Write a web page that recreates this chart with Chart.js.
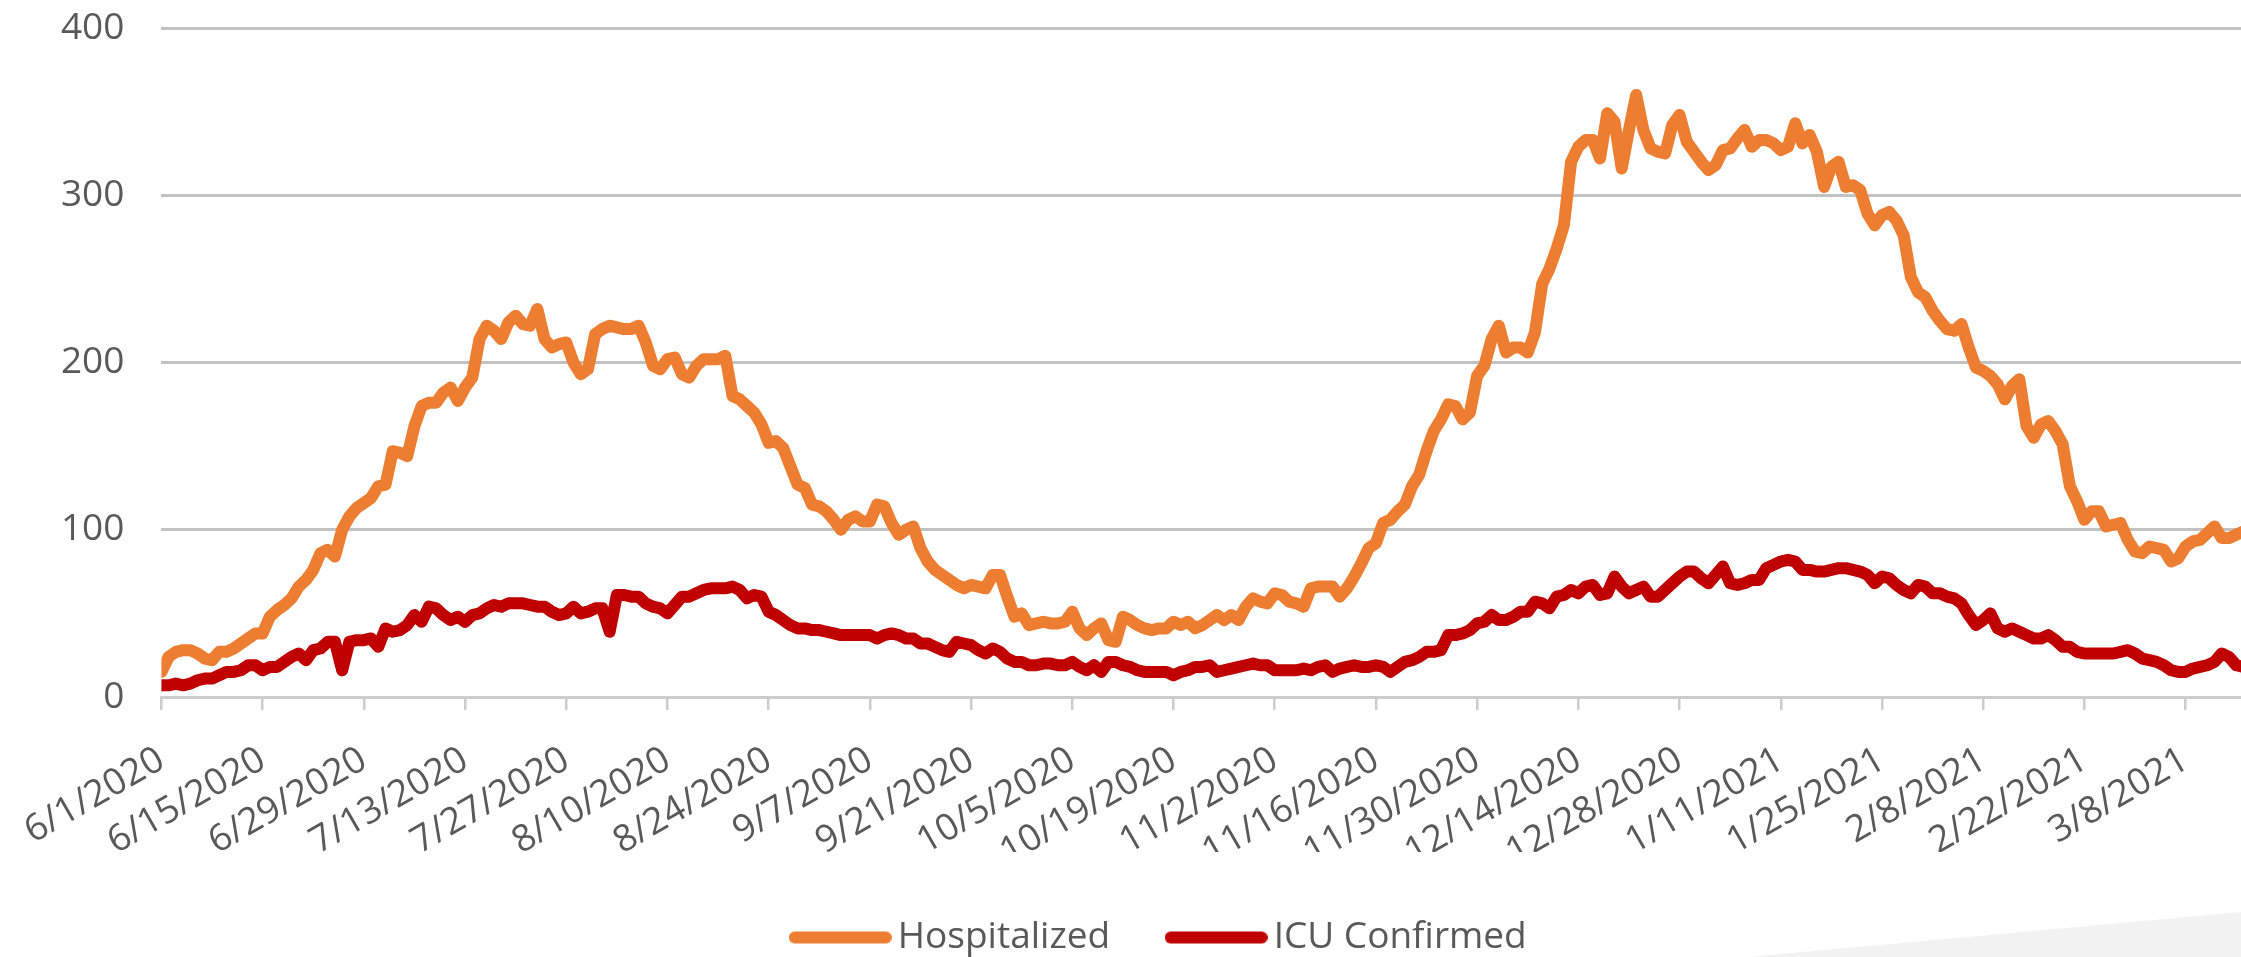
<!DOCTYPE html>
<html>
<head>
<meta charset="utf-8">
<script src="https://cdn.jsdelivr.net/npm/chart.js@4.4.1/dist/chart.umd.min.js"></script>
<style>
  html, body { margin: 0; padding: 0; background: #fff; overflow: hidden; }
  #corner { position: absolute; left: 0; top: 0; width: 2241px; height: 957px; background: #f2f2f2;
    clip-path: polygon(1749px 957px, 2241px 912px, 2241px 957px); }
  #wrap { position: relative; width: 2328px; height: 966px; }
</style>
</head>
<body>
<div id="corner"></div>
<div id="wrap"><canvas id="chart"></canvas></div>
<script>
// one value per day, starting 6/1/2020 (rows of two weeks)
const hospitalized = [
  15, 24, 27, 28, 28, 26, 23, 22, 27, 27, 29, 32, 35, 38,
  38, 48, 52, 55, 59, 66, 70, 76, 86, 88, 84, 100, 108, 113,
  116, 119, 126, 127, 147, 146, 144, 162, 174, 176, 176, 182, 185, 177,
  185, 191, 214, 222, 219, 214, 224, 228, 223, 222, 232, 214, 209, 211,
  212, 200, 193, 196, 217, 220, 222, 221, 220, 220, 222, 212, 198, 196,
  202, 203, 193, 191, 198, 202, 202, 202, 204, 180, 178, 174, 170, 163,
  152, 153, 149, 138, 127, 125, 115, 114, 111, 106, 100, 106, 108, 105,
  105, 115, 114, 104, 97, 100, 102, 89, 81, 76, 73, 70, 67, 65,
  67, 66, 65, 73, 73, 60, 48, 50, 43, 44, 45, 44, 44, 45,
  51, 41, 37, 41, 44, 34, 33, 48, 46, 43, 41, 40, 41, 41,
  45, 43, 45, 41, 43, 46, 49, 46, 49, 46, 54, 59, 57, 56,
  62, 61, 57, 56, 54, 65, 66, 66, 66, 60, 65, 72, 80, 89,
  92, 104, 106, 111, 115, 126, 133, 147, 159, 166, 175, 174, 166, 170,
  192, 198, 214, 222, 206, 209, 209, 206, 218, 247, 256, 268, 282, 320,
  329, 333, 333, 322, 349, 344, 316, 339, 360, 339, 328, 326, 325, 342,
  348, 332, 326, 320, 315, 318, 327, 328, 334, 339, 329, 333, 333, 331,
  327, 329, 343, 331, 336, 326, 305, 317, 320, 305, 306, 303, 289, 282,
  288, 290, 285, 276, 251, 242, 239, 231, 225, 220, 219, 223, 209, 197,
  195, 192, 187, 178, 186, 190, 162, 155, 163, 165, 159, 151, 126, 117,
  106, 111, 111, 102, 103, 104, 94, 87, 86, 90, 89, 88, 81, 83,
  90, 93, 94, 98, 102, 95, 95, 97, 99
];
const icuConfirmed = [
  7, 7, 8, 7, 8, 10, 11, 11, 13, 15, 15, 16, 19, 19,
  16, 18, 18, 21, 24, 26, 22, 28, 29, 33, 33, 16, 33, 34,
  34, 35, 30, 41, 39, 40, 43, 49, 45, 54, 53, 49, 46, 48,
  45, 49, 50, 53, 55, 54, 56, 56, 56, 55, 54, 54, 51, 49,
  50, 54, 50, 51, 53, 53, 39, 61, 61, 60, 60, 56, 54, 53,
  50, 55, 60, 60, 62, 64, 65, 65, 65, 66, 64, 59, 61, 60,
  51, 49, 46, 43, 41, 41, 40, 40, 39, 38, 37, 37, 37, 37,
  37, 35, 37, 38, 37, 35, 35, 32, 32, 30, 28, 27, 33, 32,
  31, 28, 26, 29, 27, 23, 21, 21, 19, 19, 20, 20, 19, 19,
  21, 18, 16, 19, 15, 21, 21, 19, 18, 16, 15, 15, 15, 15,
  13, 15, 16, 18, 18, 19, 15, 16, 17, 18, 19, 20, 19, 19,
  16, 16, 16, 16, 17, 16, 18, 19, 15, 17, 18, 19, 18, 18,
  19, 18, 15, 18, 21, 22, 24, 27, 27, 28, 37, 37, 38, 40,
  44, 45, 49, 46, 46, 48, 51, 51, 57, 56, 53, 60, 61, 64,
  62, 66, 67, 61, 62, 72, 66, 62, 64, 66, 60, 60, 64, 68,
  72, 75, 75, 71, 68, 73, 78, 68, 67, 68, 70, 70, 77, 79,
  81, 82, 81, 76, 76, 75, 75, 76, 77, 77, 76, 75, 73, 68,
  72, 71, 67, 64, 62, 67, 66, 62, 62, 60, 59, 56, 49, 43,
  46, 50, 41, 39, 41, 39, 37, 35, 35, 37, 34, 30, 30, 27,
  26, 26, 26, 26, 26, 27, 28, 26, 23, 22, 21, 19, 16, 15,
  15, 17, 18, 19, 21, 26, 24, 19, 18
];
const tickLabels = [
  '6/1/2020', '6/15/2020', '6/29/2020', '7/13/2020', '7/27/2020', '8/10/2020', '8/24/2020',
  '9/7/2020', '9/21/2020', '10/5/2020', '10/19/2020', '11/2/2020', '11/16/2020', '11/30/2020',
  '12/14/2020', '12/28/2020', '1/11/2021', '1/25/2021', '2/8/2021', '2/22/2021', '3/8/2021'
];
const tickStep = 14; // days between labels
const yTicks = [0, 100, 200, 300, 400];

const textColor = '#595959';
const orange = '#ED7D31';
const darkRed = '#C00000';
Chart.defaults.font.family = "'Open Sans', sans-serif";
Chart.defaults.color = textColor;

const toPoints = arr => arr.map((v, i) => ({ x: i, y: v }));

// legend marker: short thick line with round ends
function makeSwatch(color) {
    const c = document.createElement('canvas');
    c.width = 103;
    c.height = 14;
    const g = c.getContext('2d');
    g.strokeStyle = color;
    g.lineWidth = 12;
    g.lineCap = 'round';
    g.beginPath();
    g.moveTo(6, 7);
    g.lineTo(97, 7);
    g.stroke();
    return c;
}

const ctx = document.getElementById('chart').getContext('2d');
const lineChart = new Chart(ctx, {
    type: 'line',
    data: {
        datasets: [{
            label: 'Hospitalized',
            data: toPoints(hospitalized),
            borderColor: orange,
            backgroundColor: orange,
            borderWidth: 12,
            pointRadius: 0,
            tension: 0,
            borderJoinStyle: 'round',
            borderCapStyle: 'round'
        }, {
            label: 'ICU Confirmed',
            data: toPoints(icuConfirmed),
            borderColor: darkRed,
            backgroundColor: darkRed,
            borderWidth: 12,
            pointRadius: 0,
            tension: 0,
            borderJoinStyle: 'round',
            borderCapStyle: 'round'
        }]
    },
    options: {
        responsive: true,
        maintainAspectRatio: false,
        animation: false,
        layout: { padding: { top: 28, left: 0, right: 0, bottom: 0 } },
        plugins: {
            tooltip: { enabled: false },
            legend: {
                position: 'bottom',
                labels: {
                    font: { size: 37 },
                    color: textColor,
                    usePointStyle: true,
                    pointStyleWidth: 78,
                    boxHeight: 12,
                    padding: 67,
                    generateLabels: chart => {
                        const items = Chart.defaults.plugins.legend.labels.generateLabels(chart);
                        items.forEach((it, i) => {
                            it.pointStyle = makeSwatch(i === 0 ? orange : darkRed);
                            it.lineWidth = 0;
                        });
                        return items;
                    }
                }
            }
        },
        scales: {
            x: {
                type: 'linear',
                min: 0,
                max: 299.7,
                afterBuildTicks: scale => {
                    scale.ticks = tickLabels.map((_, i) => ({ value: i * tickStep }));
                },
                afterFit: scale => { scale.height = 155; },
                grid: { drawOnChartArea: false, tickLength: 13, color: '#cccccc', lineWidth: 2.5 },
                border: { color: '#cccccc', width: 3 },
                ticks: {
                    autoSkip: false,
                    minRotation: 30,
                    maxRotation: 30,
                    padding: 28,
                    font: { size: 37 },
                    color: textColor,
                    callback: v => tickLabels[v / tickStep]
                }
            },
            y: {
                min: 0,
                max: 400,
                afterBuildTicks: scale => {
                    scale.ticks = yTicks.map(v => ({ value: v }));
                },
                afterFit: scale => { scale.width = 159; },
                // invisible tick marks give the label gap without padding the top
                grid: { drawTicks: true, tickLength: 37, tickColor: 'rgba(0,0,0,0)', color: '#c2c2c2', lineWidth: 3 },
                border: { display: false },
                ticks: { padding: 0, font: { size: 37 }, color: textColor }
            }
        }
    }
});
</script>
</body>
</html>
